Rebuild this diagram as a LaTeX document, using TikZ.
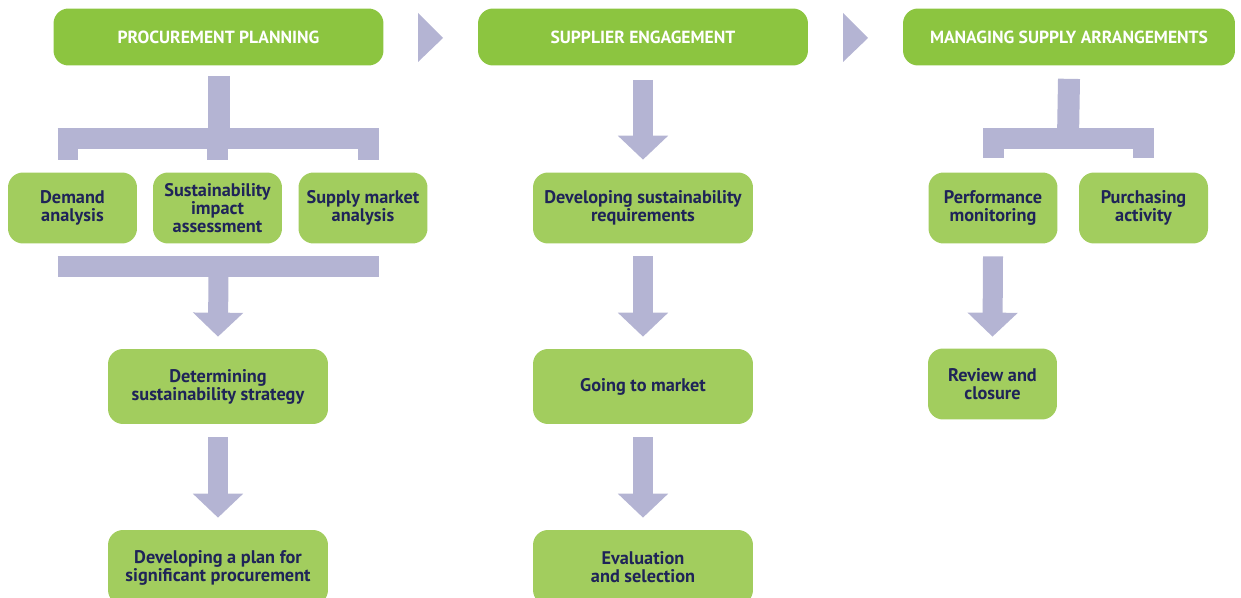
\documentclass[tikz,border=0pt]{standalone}
\usepackage{fontspec}
\setmainfont{PT Sans}
\usetikzlibrary{arrows.meta,calc}

\definecolor{headgreen}{HTML}{8CC540}
\definecolor{taskgreen}{HTML}{A2CD5E}
\definecolor{lilac}{HTML}{B4B4D3}
\definecolor{navy}{HTML}{1F2458}

\tikzset{
  head/.style={fill=headgreen, rounded corners=0.3cm, minimum width=6.6cm, minimum height=1.14cm,
    text=white, font=\bfseries\fontsize{10}{11}\selectfont},
  task/.style={fill=taskgreen, rounded corners=0.3cm, minimum width=2.58cm, minimum height=1.42cm,
    align=center, inner sep=2pt, text=navy, font=\bfseries\fontsize{10.4}{10.3}\selectfont},
  wide/.style={task, minimum width=4.4cm, minimum height=1.5cm},
  bar/.style={draw=lilac, line width=0.44cm},
  flow/.style={draw=lilac, line width=0.4cm, -{Triangle[width=0.98cm,length=0.48cm]}},
}

\begin{document}
\begin{tikzpicture}[x=0.02cm, y=-0.02cm]
\useasboundingbox (0,0) rectangle (1241,598);
\clip (0,0) rectangle (1241,598);

% stages
\node[head] (pp) at (218.5,37) {PROCUREMENT PLANNING};
\node[head] (se) at (643,37) {SUPPLIER ENGAGEMENT};
\node[head, minimum width=6.64cm] (msa) at (1069,37) {MANAGING SUPPLY ARRANGEMENTS};

\fill[lilac] (418,13) -- (443,38) -- (418,62) -- cycle;
\fill[lilac] (843,13) -- (868,38) -- (843,62) -- cycle;

% first row
\node[task] (dem) at (72.5,208) {Demand\\analysis};
\node[task] (sia) at (217.5,208) {Sustainability\\impact\\assessment};
\node[task] (sma) at (363,208) {Supply market\\analysis};
\node[wide, minimum height=1.42cm] (dsr) at (643,208) {Developing sustainability\\requirements};
\node[task] (pm) at (993,208) {Performance\\monitoring};
\node[task] (pa) at (1143.5,208) {Purchasing\\activity};

% second row
\node[wide] (dss) at (218,386.5) {Determining\\sustainability strategy};
\node[wide] (gtm) at (643,386.5) {Going to market};
\node[task] (rc) at (992.5,384) {Review and\\closure};

% third row
\node[wide] (dpp) at (218,567.5) {Developing a plan for\\significant procurement};
\node[wide] (es) at (643,567.5) {Evaluation\\and selection};

% procurement planning brackets
\coordinate (ppbar) at (218.5,138.5);
\draw[bar] ([yshift=-0.2cm]pp.south) -- (ppbar);
\draw[bar] ($(dem.north |- ppbar)+(-15,0)$) -- ($(sma.north |- ppbar)+(16,0)$);
\draw[bar, line width=0.42cm] ($(dem.north |- ppbar)+(-4.5,0)$) -- ($(dem.north |- ppbar)+(-4.5,21.5)$);
\draw[bar, line width=0.42cm] (sia.north |- ppbar) -- ([yshift=0.25cm]sia.north);
\draw[bar, line width=0.42cm] ($(sma.north |- ppbar)+(5.5,0)$) -- ($(sma.north |- ppbar)+(5.5,21.5)$);

\coordinate (ppjoin) at (218.5,266.5);
\draw[bar, line width=0.42cm] ($(dem.south |- ppjoin)+(-15,0)$) -- ($(sma.south |- ppjoin)+(16,0)$);
\draw[flow] (ppjoin) -- ([yshift=0.24cm]dss.north);
\draw[flow] ([yshift=-0.26cm]dss.south) -- ([yshift=0.24cm]dpp.north);

% supplier engagement
\draw[flow] ([yshift=-0.28cm]se.south) -- ([yshift=0.25cm]dsr.north);
\draw[flow] ([yshift=-0.25cm]dsr.south) -- ([yshift=0.24cm]gtm.north);
\draw[flow] ([yshift=-0.26cm]gtm.south) -- ([yshift=0.24cm]es.north);

% managing supply arrangements
\coordinate (msabar) at (1068,138.5);
\draw[bar] ([yshift=-0.26cm]msa.south) -- (msabar);
\draw[bar] ($(pm.north |- msabar)+(-10,0)$) -- ($(pa.north |- msabar)+(10.5,0)$);
\foreach \n in {pm,pa}
  \draw[bar, line width=0.42cm] (\n.north |- msabar) -- ([yshift=0.28cm]\n.north);
\draw[flow] ([yshift=-0.25cm]pm.south) -- ([yshift=0.23cm]rc.north);

\end{tikzpicture}
\end{document}
